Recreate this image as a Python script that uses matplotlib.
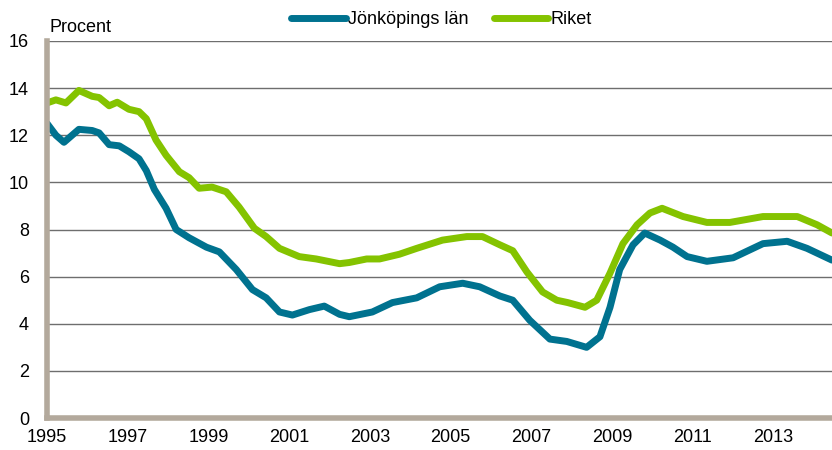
import matplotlib
matplotlib.use("Agg")
import matplotlib.pyplot as plt
from matplotlib.lines import Line2D

plt.rcParams['font.family'] = ['Liberation Sans', 'DejaVu Sans']

# --- data ---
riket_years = [1995.0, 1995.22, 1995.47, 1995.79, 1996.12, 1996.29, 1996.54, 1996.74, 1997.03, 1997.28,
               1997.46, 1997.70, 1997.95, 1998.28, 1998.52, 1998.77, 1999.09, 1999.44, 1999.76, 2000.14,
               2000.43, 2000.76, 2001.25, 2001.67, 2002.25, 2002.49, 2002.92, 2003.24, 2003.73, 2004.16,
               2004.80, 2005.40, 2005.79, 2006.22, 2006.54, 2006.89, 2007.28, 2007.63, 2007.90, 2008.33,
               2008.62, 2008.95, 2009.27, 2009.62, 2009.94, 2010.24, 2010.76, 2011.35, 2011.92, 2012.74,
               2013.59, 2014.08, 2014.45]
riket = [13.37, 13.5, 13.37, 13.9, 13.65, 13.6, 13.25, 13.4, 13.1, 13.0,
         12.7, 11.8, 11.15, 10.45, 10.2, 9.75, 9.8, 9.6, 8.95, 8.05,
         7.7, 7.2, 6.85, 6.75, 6.55, 6.6, 6.75, 6.75, 6.95, 7.2,
         7.55, 7.7, 7.7, 7.35, 7.1, 6.2, 5.35, 5.0, 4.9, 4.7,
         5.0, 6.15, 7.4, 8.2, 8.7, 8.9, 8.55, 8.3, 8.3, 8.55,
         8.55, 8.2, 7.85]

jkpg_years = [1995.0, 1995.22, 1995.42, 1995.79, 1996.12, 1996.29, 1996.54, 1996.79, 1997.03, 1997.28,
              1997.46, 1997.66, 1997.95, 1998.20, 1998.52, 1998.95, 1999.27, 1999.69, 2000.09, 2000.43,
              2000.76, 2001.08, 2001.50, 2001.87, 2002.25, 2002.49, 2003.06, 2003.56, 2004.16, 2004.73,
              2005.30, 2005.72, 2006.22, 2006.54, 2006.96, 2007.46, 2007.88, 2008.37, 2008.70, 2008.95,
              2009.19, 2009.52, 2009.81, 2010.19, 2010.51, 2010.86, 2011.35, 2012.00, 2012.74, 2013.34,
              2013.83, 2014.45]
jkpg = [12.5, 12.0, 11.7, 12.25, 12.2, 12.1, 11.6, 11.55, 11.3, 11.0,
        10.5, 9.7, 8.9, 8.0, 7.65, 7.25, 7.05, 6.3, 5.45, 5.1,
        4.5, 4.37, 4.6, 4.75, 4.4, 4.3, 4.5, 4.9, 5.1, 5.57,
        5.72, 5.57, 5.18, 5.0, 4.15, 3.35, 3.25, 3.0, 3.45, 4.7,
        6.3, 7.35, 7.85, 7.55, 7.25, 6.85, 6.65, 6.8, 7.4, 7.5,
        7.2, 6.7]

series_names = ["Jönköpings län", "Riket"]
x_ticks = [1995, 1997, 1999, 2001, 2003, 2005, 2007, 2009, 2011, 2013]
y_ticks = [0, 2, 4, 6, 8, 10, 12, 14, 16]

c_jkpg = "#00728F"
c_riket = "#84C300"
c_axis = "#B3A99C"
c_grid = "#6E6E6E"

fs = 13

fig = plt.figure(figsize=(8.32, 4.5), dpi=100)
ax = fig.add_axes([0.0565, 0.071, 1 - 0.0565, 0.838])

ax.plot(jkpg_years, jkpg, color=c_jkpg, lw=5, solid_capstyle='round', solid_joinstyle='round', zorder=3)
ax.plot(riket_years, riket, color=c_riket, lw=5, solid_capstyle='round', solid_joinstyle='round', zorder=3)

ax.set_xlim(1995, 2014.45)
ax.set_ylim(0, 16)
ax.set_xticks(x_ticks)
ax.set_xticklabels([str(t) for t in x_ticks])
ax.set_yticks(y_ticks)
ax.tick_params(axis='both', length=0, labelsize=fs, colors='black')
ax.tick_params(axis='y', pad=13)
ax.tick_params(axis='x', pad=8)

for v in y_ticks[1:]:
    ax.axhline(v, color=c_grid, lw=1.0, zorder=1)

for s in ['top', 'right']:
    ax.spines[s].set_visible(False)
for s in ['left', 'bottom']:
    ax.spines[s].set_color(c_axis)
    ax.spines[s].set_linewidth(4)
    ax.spines[s].set_zorder(4)

fig.text(0.059, 0.94, "Procent", fontsize=fs, ha='left', va='center')

handles = [Line2D([0], [0], color=c_jkpg, lw=5, solid_capstyle='round'),
           Line2D([0], [0], color=c_riket, lw=5, solid_capstyle='round')]
fig.legend(handles, series_names, loc='center', bbox_to_anchor=(0.531, 0.957), ncol=2,
           frameon=False, fontsize=fs, handlelength=3.0, handletextpad=0.15,
           columnspacing=1.4, borderaxespad=0)

fig.savefig("out.png", dpi=100)
